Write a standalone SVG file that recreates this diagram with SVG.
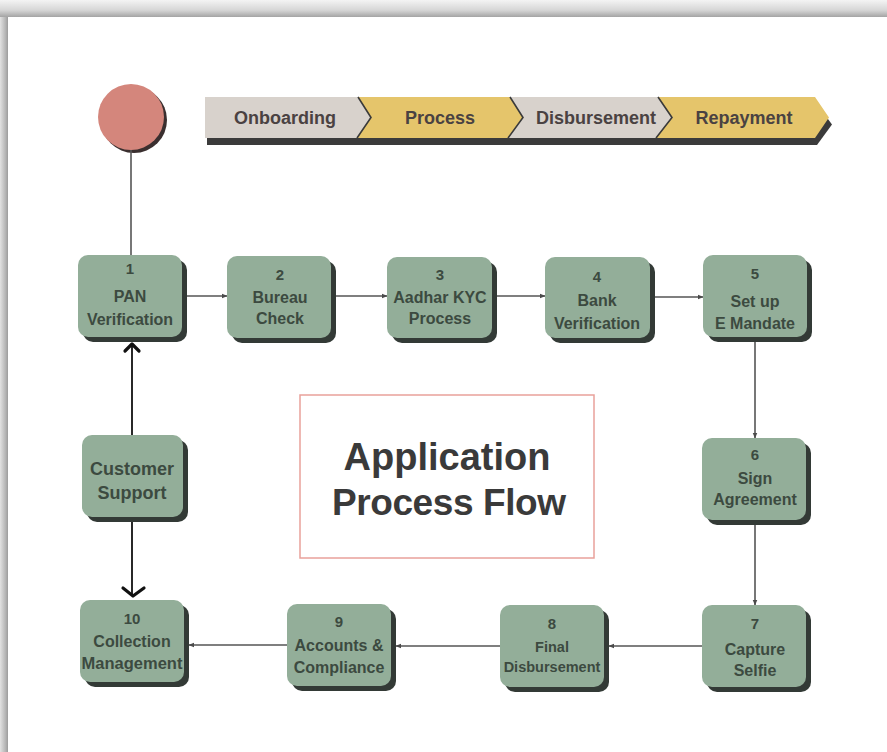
<svg xmlns="http://www.w3.org/2000/svg" width="887" height="752" viewBox="0 0 887 752">
<defs>
<linearGradient id="gTop" x1="0" y1="0" x2="0" y2="1">
<stop offset="0" stop-color="#f4f4f4"/><stop offset="0.6" stop-color="#d6d6d6"/><stop offset="1" stop-color="#a4a4a4"/>
</linearGradient>
<linearGradient id="gLeft" x1="0" y1="0" x2="1" y2="0">
<stop offset="0" stop-color="#e2e2e2"/><stop offset="0.7" stop-color="#b4b4b4"/><stop offset="1" stop-color="#9c9c9c"/>
</linearGradient>
<marker id="ah" viewBox="0 0 10 10" refX="9" refY="5" markerWidth="6" markerHeight="6" orient="auto" markerUnits="userSpaceOnUse">
<path d="M0,1 L10,5 L0,9 Z" fill="#4a4a4a"/>
</marker>
<style>
.sh{fill:#333a36}
.bx{fill:#93ae99}
.t{font-family:"Liberation Sans",Arial,sans-serif;font-weight:bold;fill:#3c4a40;text-anchor:middle;font-size:16px}
.n{font-size:15px}
.c{fill:none;stroke:#555;stroke-width:1.6}
.k{fill:none;stroke:#111;stroke-width:1.8}
.kh{fill:none;stroke:#111;stroke-width:3.2;stroke-linecap:round;stroke-linejoin:round}
.bt{font-family:"Liberation Sans",Arial,sans-serif;font-weight:bold;fill:#4a4242;text-anchor:middle;font-size:18px}
.cv{fill:none;stroke:#3a3a3a;stroke-width:1.6}
</style>
</defs>
<rect width="887" height="752" fill="#ffffff"/>
<rect x="0" y="17" width="8" height="735" fill="url(#gLeft)"/>
<rect x="0" y="0" width="887" height="17" fill="url(#gTop)"/>

<g id="start">
<circle cx="134" cy="120" r="33" fill="#3a2f2f"/>
<circle cx="131" cy="117" r="33" fill="#d4867c"/>
</g>

<g id="banner">
<polygon points="207,104 817,104 832,124.5 817,145 207,145" fill="#3b3b3b"/>
<polygon points="205,97 358,97 371,117.5 357,138 205,138" fill="#d8d2cc"/>
<polygon points="358,97 510,97 523,117.5 508,138 357,138 371,117.5" fill="#e5c56b"/>
<polygon points="510,97 658,97 672,117.5 656,138 508,138 523,117.5" fill="#d8d2cc"/>
<polygon points="658,97 815,97 829,117.5 815,138 656,138 672,117.5" fill="#e5c56b"/>
<polyline class="cv" points="358,97 371,117.5 357,138"/>
<polyline class="cv" points="510,97 523,117.5 508,138"/>
<polyline class="cv" points="658,97 672,117.5 656,138"/>
<text class="bt" x="285" y="124">Onboarding</text>
<text class="bt" x="440" y="124">Process</text>
<text class="bt" x="596" y="124">Disbursement</text>
<text class="bt" x="744" y="124">Repayment</text>
</g>

<g id="connectors">
<line class="c" x1="131" y1="150" x2="131" y2="255"/>
<line class="c" x1="187" y1="296" x2="227" y2="296" marker-end="url(#ah)"/>
<line class="c" x1="336" y1="296" x2="387" y2="296" marker-end="url(#ah)"/>
<line class="c" x1="497" y1="296" x2="545" y2="296" marker-end="url(#ah)"/>
<line class="c" x1="655" y1="297" x2="703" y2="297" marker-end="url(#ah)"/>
<line class="c" x1="755" y1="342" x2="755" y2="438" marker-end="url(#ah)"/>
<line class="c" x1="755" y1="525" x2="755" y2="605" marker-end="url(#ah)"/>
<line class="c" x1="702" y1="646" x2="609" y2="646" marker-end="url(#ah)"/>
<line class="c" x1="500" y1="646" x2="396" y2="646" marker-end="url(#ah)"/>
<line class="c" x1="287" y1="645" x2="189" y2="645" marker-end="url(#ah)"/>
<line class="k" x1="132" y1="346" x2="132" y2="435"/>
<polyline class="kh" points="125,351 132,344 139,351"/>
<line class="k" x1="132" y1="522" x2="132" y2="596"/>
<polyline class="kh" points="123,588 133,596 144,588"/>
</g>

<g id="node1">
<rect class="sh" x="83" y="260" width="104" height="82" rx="10"/>
<rect class="bx" x="78" y="255" width="104" height="82" rx="10"/>
<text class="t n" x="130" y="274">1</text>
<text class="t" x="130" y="302">PAN</text>
<text class="t" x="130" y="325">Verification</text>
</g>
<g id="node2">
<rect class="sh" x="232" y="261" width="104" height="82" rx="10"/>
<rect class="bx" x="227" y="256" width="104" height="82" rx="10"/>
<text class="t n" x="280" y="280">2</text>
<text class="t" x="280" y="303">Bureau</text>
<text class="t" x="280" y="324">Check</text>
</g>
<g id="node3">
<rect class="sh" x="392" y="262" width="105" height="81" rx="10"/>
<rect class="bx" x="387" y="257" width="105" height="81" rx="10"/>
<text class="t n" x="440" y="280">3</text>
<text class="t" x="440" y="303">Aadhar KYC</text>
<text class="t" x="440" y="324">Process</text>
</g>
<g id="node4">
<rect class="sh" x="550" y="262" width="105" height="81" rx="10"/>
<rect class="bx" x="545" y="257" width="105" height="81" rx="10"/>
<text class="t n" x="597" y="282">4</text>
<text class="t" x="597" y="306">Bank</text>
<text class="t" x="597" y="329">Verification</text>
</g>
<g id="node5">
<rect class="sh" x="708" y="260" width="104" height="82" rx="10"/>
<rect class="bx" x="703" y="255" width="104" height="82" rx="10"/>
<text class="t n" x="755" y="279">5</text>
<text class="t" x="755" y="307">Set up</text>
<text class="t" x="755" y="329">E Mandate</text>
</g>
<g id="node6">
<rect class="sh" x="707" y="443" width="104" height="82" rx="10"/>
<rect class="bx" x="702" y="438" width="104" height="82" rx="10"/>
<text class="t n" x="755" y="460">6</text>
<text class="t" x="755" y="484">Sign</text>
<text class="t" x="755" y="505">Agreement</text>
</g>
<g id="node7">
<rect class="sh" x="707" y="610" width="104" height="82" rx="10"/>
<rect class="bx" x="702" y="605" width="104" height="82" rx="10"/>
<text class="t n" x="755" y="629">7</text>
<text class="t" x="755" y="655">Capture</text>
<text class="t" x="755" y="676">Selfie</text>
</g>
<g id="node8">
<rect class="sh" x="505" y="610" width="104" height="82" rx="10"/>
<rect class="bx" x="500" y="605" width="104" height="82" rx="10"/>
<text class="t n" x="552" y="629">8</text>
<text class="t" x="552" y="652" style="font-size:14.5px">Final</text>
<text class="t" x="552" y="672" style="font-size:14.5px">Disbursement</text>
</g>
<g id="node9">
<rect class="sh" x="292" y="609" width="104" height="82" rx="10"/>
<rect class="bx" x="287" y="604" width="104" height="82" rx="10"/>
<text class="t n" x="339" y="627">9</text>
<text class="t" x="339" y="651">Accounts &amp;</text>
<text class="t" x="339" y="673">Compliance</text>
</g>
<g id="node10">
<rect class="sh" x="85" y="605" width="104" height="82" rx="10"/>
<rect class="bx" x="80" y="600" width="104" height="82" rx="10"/>
<text class="t n" x="132" y="624">10</text>
<text class="t" x="132" y="647">Collection</text>
<text class="t" x="132" y="669" style="font-size:16.5px">Management</text>
</g>
<g id="support">
<rect class="sh" x="87" y="440" width="101" height="82" rx="10"/>
<rect class="bx" x="82" y="435" width="101" height="82" rx="10"/>
<text class="t" x="132" y="475" style="font-size:18px">Customer</text>
<text class="t" x="132" y="499" style="font-size:18px">Support</text>
</g>

<g id="title">
<rect x="300" y="395" width="294" height="163" fill="#ffffff" stroke="#e9a19b" stroke-width="1.5"/>
<text x="447" y="470" font-family="Liberation Sans, Arial, sans-serif" font-weight="bold" font-size="38" fill="#3a3a3a" text-anchor="middle">Application</text>
<text x="449" y="515" font-family="Liberation Sans, Arial, sans-serif" font-weight="bold" font-size="37" fill="#3a3a3a" text-anchor="middle" textLength="234">Process Flow</text>
</g>
</svg>
